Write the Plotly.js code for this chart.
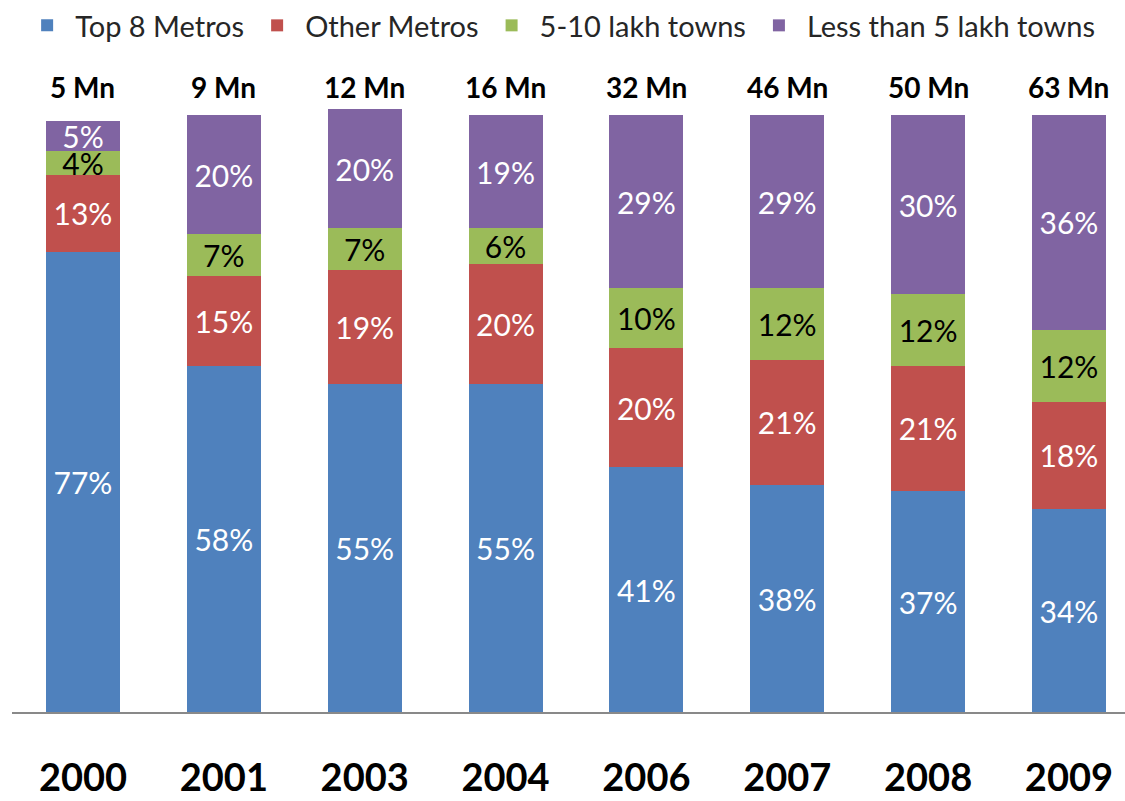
<!DOCTYPE html>
<html>
<head>
<meta charset="utf-8">
<script src="https://cdn.plot.ly/plotly-3.0.1.min.js"></script>
<style>
  html, body { margin: 0; padding: 0; background: #ffffff; }
  #chart { width: 1125px; height: 801px; }
</style>
</head>
<body>
<div id="chart"></div>
<script>
const years = ['2000', '2001', '2003', '2004', '2006', '2007', '2008', '2009'];
const totals = ['5 Mn', '9 Mn', '12 Mn', '16 Mn', '32 Mn', '46 Mn', '50 Mn', '63 Mn'];
const top8Metros = [77, 58, 55, 55, 41, 38, 37, 34];
const otherMetros = [13, 15, 19, 20, 20, 21, 21, 18];
const towns5to10 = [4, 7, 7, 6, 10, 12, 12, 12];
const townsBelow5 = [5, 20, 20, 19, 29, 29, 30, 36];

const seriesNames = ['Top 8 Metros', 'Other Metros', '5-10 lakh towns', 'Less than 5 lakh towns'];
const seriesValues = [top8Metros, otherMetros, towns5to10, townsBelow5];
const seriesColors = ['#4F81BD', '#C0504D', '#9BBB59', '#8064A2'];
const labelColors = ['#ffffff', '#ffffff', '#000000', '#ffffff'];

const FONT = 'Lato, "Open Sans", sans-serif';

const traces = seriesNames.map((name, i) => ({
  type: 'bar',
  name: name,
  x: years,
  y: seriesValues[i],
  text: seriesValues[i].map(v => v + '%'),
  texttemplate: '%{text}',
  textposition: 'inside',
  insidetextanchor: 'middle',
  textangle: 0,
  constraintext: 'none',
  cliponaxis: false,
  textfont: { family: FONT, size: 30, color: labelColors[i] },
  marker: { color: seriesColors[i], line: { width: 0 } },
  hoverinfo: 'skip'
}));

const annotations = years.map((yr, i) => ({
  x: i,
  y: 1,
  xref: 'x',
  yref: 'paper',
  yanchor: 'bottom',
  yshift: 3,
  text: '<b>' + totals[i] + '</b>',
  showarrow: false,
  font: { family: FONT, size: 28, color: '#000000' }
}));

const layout = {
  width: 1125,
  height: 801,
  margin: { l: 12, r: 0, t: 109, b: 89 },
  paper_bgcolor: '#ffffff',
  plot_bgcolor: '#ffffff',
  barmode: 'stack',
  bargap: 0.475,
  showlegend: true,
  legend: {
    orientation: 'h',
    traceorder: 'normal',
    xref: 'container',
    yref: 'container',
    x: 0.017,
    y: 1,
    xanchor: 'left',
    yanchor: 'top',
    font: { family: FONT, size: 29, color: '#262626' },
    itemwidth: 46,
    bgcolor: 'rgba(0,0,0,0)'
  },
  xaxis: {
    type: 'category',
    range: [-0.504, 7.398],
    showline: true,
    linecolor: '#898989',
    linewidth: 2,
    ticks: '',
    ticklabelstandoff: 31,
    tickfont: { family: FONT, size: 38, color: '#000000', weight: 'bold' },
    showgrid: false,
    zeroline: false,
    fixedrange: true
  },
  yaxis: {
    range: [0, 101],
    showticklabels: false,
    showgrid: false,
    zeroline: false,
    showline: false,
    ticks: '',
    fixedrange: true
  },
  annotations: annotations
};

Plotly.newPlot('chart', traces, layout, { displayModeBar: false, staticPlot: true });
</script>
</body>
</html>
